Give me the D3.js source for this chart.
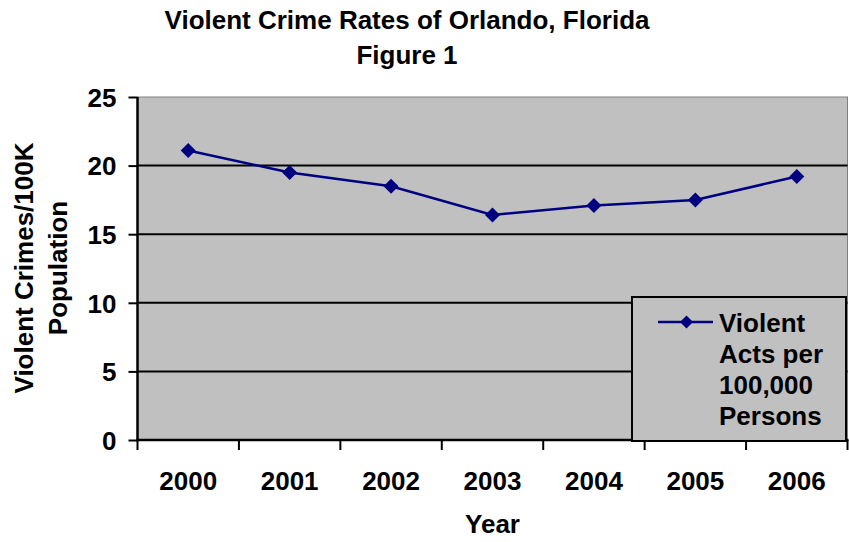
<!DOCTYPE html>
<html>
<head>
<meta charset="utf-8">
<script src="https://cdn.jsdelivr.net/npm/d3@7"></script>
<style>
  html, body { margin: 0; padding: 0; background: #fff; }
  svg text { font-family: Arial, "Liberation Sans", sans-serif; font-weight: bold; fill: #000; }
</style>
</head>
<body>
<svg id="chart" width="849" height="542"></svg>
<script>
// Violent crime rate per 100,000 persons, Orlando
const years = ["2000", "2001", "2002", "2003", "2004", "2005", "2006"];
const rates = [21.1, 19.5, 18.5, 16.4, 17.1, 17.5, 19.2];
const yTicks = [0, 5, 10, 15, 20, 25];
const titleLines = ["Violent Crime Rates of Orlando, Florida", "Figure 1"];
const yTitleLines = ["Violent Crimes/100K", "Population"];
const legendLines = ["Violent", "Acts per", "100,000", "Persons"];

const svg = d3.select("#chart");
const plot = { left: 137.5, right: 847.5, top: 97, bottom: 440 };
const fontSize = 26;
const navy = "#000080";

const x = d3.scaleBand().domain(years).range([plot.left, plot.right]).padding(0);
const y = d3.scaleLinear().domain([0, 25]).range([plot.bottom, plot.top]);
const cx = d => x(d) + x.bandwidth() / 2;

// plot background
svg.append("rect")
  .attr("x", plot.left).attr("y", plot.top)
  .attr("width", plot.right - plot.left).attr("height", plot.bottom - plot.top)
  .attr("fill", "#c0c0c0").attr("stroke", "#808080").attr("stroke-width", 1);

// horizontal gridlines
svg.append("g").selectAll("line")
  .data(yTicks.filter(v => v > 0 && v < 25))
  .join("line")
  .attr("x1", plot.left).attr("x2", plot.right)
  .attr("y1", d => y(d)).attr("y2", d => y(d))
  .attr("stroke", "#000").attr("stroke-width", 2);

// y axis
const yAxis = svg.append("g").attr("transform", `translate(${plot.left},0)`)
  .call(d3.axisLeft(y).tickValues(yTicks).tickSize(9).tickPadding(12).tickFormat(d3.format("d")));
yAxis.select(".domain").attr("stroke", "#000").attr("stroke-width", 2.5)
  .attr("d", `M0,${plot.top}V${plot.bottom + 1}`);
yAxis.selectAll(".tick line").attr("stroke", "#000").attr("stroke-width", 2);
yAxis.selectAll(".tick text").attr("font-size", fontSize).attr("dy", "0.36em")
  .style("font-family", "Arial, 'Liberation Sans', sans-serif").style("font-weight", "bold");

// x axis: category boundaries as ticks, labels centred in each band
const xAxis = svg.append("g").attr("transform", `translate(0,${plot.bottom})`);
xAxis.append("line")
  .attr("x1", plot.left - 1).attr("x2", plot.right + 1)
  .attr("stroke", "#000").attr("stroke-width", 2.5);
xAxis.selectAll("line.tick")
  .data(years.map(d => x(d)).concat([plot.right]))
  .join("line").attr("class", "tick")
  .attr("x1", d => d).attr("x2", d => d).attr("y1", 0).attr("y2", 10)
  .attr("stroke", "#000").attr("stroke-width", 2);
xAxis.selectAll("text")
  .data(years)
  .join("text")
  .attr("x", d => cx(d)).attr("y", 50)
  .attr("text-anchor", "middle").attr("font-size", fontSize)
  .text(d => d);

// series line and diamond markers
const line = d3.line().x((d, i) => cx(years[i])).y(d => y(d));
svg.append("path").datum(rates)
  .attr("d", line).attr("fill", "none")
  .attr("stroke", navy).attr("stroke-width", 2.5);

const diamond = r => `M0,${-r}L${r},0L0,${r}L${-r},0Z`;
svg.append("g").selectAll("path")
  .data(rates)
  .join("path")
  .attr("transform", (d, i) => `translate(${cx(years[i])},${y(d)})`)
  .attr("d", diamond(7.5))
  .attr("fill", navy);

// legend
const lg = svg.append("g").attr("transform", "translate(632,297)");
lg.append("rect").attr("width", 214).attr("height", 144)
  .attr("fill", "#c0c0c0").attr("stroke", "#000").attr("stroke-width", 2);
lg.append("line").attr("x1", 26).attr("x2", 81).attr("y1", 25).attr("y2", 25)
  .attr("stroke", navy).attr("stroke-width", 2.5);
lg.append("path").attr("transform", "translate(54.5,25)").attr("d", diamond(6.5)).attr("fill", navy);
lg.selectAll("text")
  .data(legendLines)
  .join("text")
  .attr("x", 87).attr("y", (d, i) => 35 + i * 31)
  .attr("font-size", fontSize)
  .text(d => d);

// chart title
svg.append("g").selectAll("text")
  .data(titleLines)
  .join("text")
  .attr("x", 407).attr("y", (d, i) => 29 + i * 35)
  .attr("text-anchor", "middle").attr("font-size", fontSize)
  .text(d => d);

// axis titles
svg.append("g").selectAll("text")
  .data(yTitleLines)
  .join("text")
  .attr("transform", (d, i) => `translate(${33 + i * 34},268) rotate(-90)`)
  .attr("text-anchor", "middle").attr("font-size", fontSize)
  .text(d => d);

svg.append("text")
  .attr("x", (plot.left + plot.right) / 2).attr("y", 533)
  .attr("text-anchor", "middle").attr("font-size", fontSize)
  .text("Year");
</script>
</body>
</html>
